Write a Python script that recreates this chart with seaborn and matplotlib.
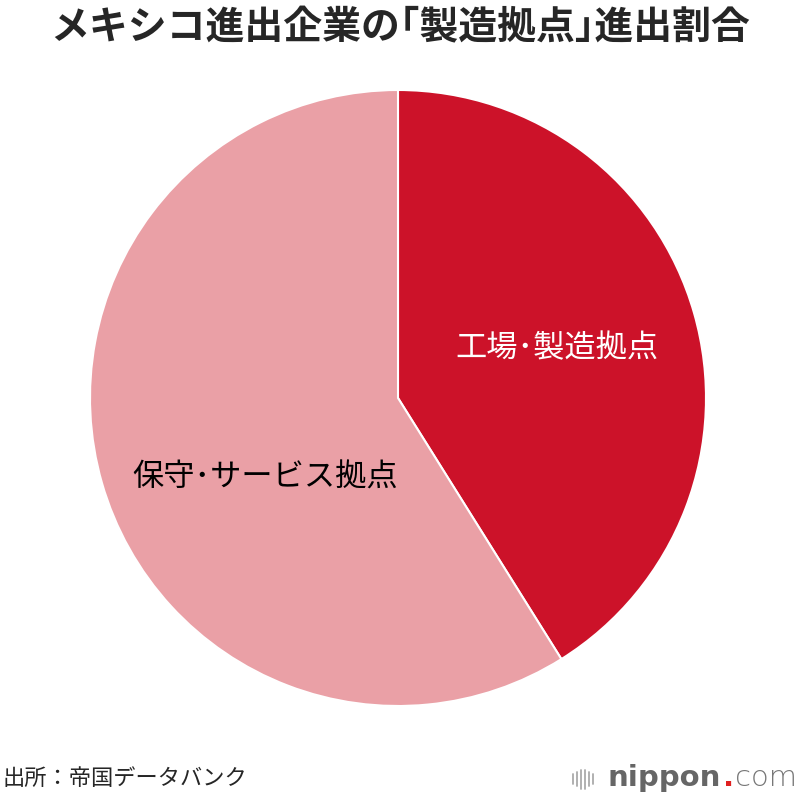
import matplotlib
matplotlib.use("Agg")
import matplotlib.pyplot as plt
from matplotlib.lines import Line2D
import seaborn as sns

sns.set_style("white")
plt.rcParams['font.family'] = ['Noto Sans CJK JP', 'DejaVu Sans']

# data
labels = ['工場・製造拠点', '保守・サービス拠点']
shares = [41.1, 58.9]
colors = ['#cc1229', '#eaa0a6']
label_colors = ['white', 'black']
label_pos = [(0.516, 0.162), (-0.43, -0.26)]

fig = plt.figure(figsize=(8, 8), dpi=100)
ax = fig.add_axes([90/800, 94/800, 616/800, 616/800])

wedges, _ = ax.pie(shares, colors=colors, startangle=90, counterclock=False,
                   wedgeprops=dict(edgecolor='white', linewidth=1.5))
ax.set_xlim(-1, 1)
ax.set_ylim(-1, 1)
ax.set_aspect('equal')
ax.axis('off')

for lab, c, (x, y) in zip(labels, label_colors, label_pos):
    ax.text(x, y, lab.replace('・', '･'), color=c, fontsize=22.5, ha='center', va='center')

fig.text(0.5, 0.965, 'メキシコ進出企業の｢製造拠点｣進出割合', ha='center', va='center',
         fontsize=28, fontweight='bold')
fig.text(0.003, 0.027, '出所：帝国データバンク', ha='left', va='center', fontsize=16)

# nippon.com logo
renderer = fig.canvas.get_renderer()
x0 = 608 / 800
t1 = fig.text(x0, 0.027, 'nippon', ha='left', va='center', fontsize=21,
              fontweight='bold', color='#666666', family='DejaVu Sans')
x1 = t1.get_window_extent(renderer).x1 / 800
t2 = fig.text(x1 + 0.002, 0.027, '.', ha='left', va='center', fontsize=21,
              fontweight='bold', color='#e02020', family='DejaVu Sans')
x2 = t2.get_window_extent(renderer).x1 / 800
fig.text(x2 + 0.001, 0.027, 'com', ha='left', va='center', fontsize=21,
         color='#777777', family='DejaVu Sans', fontweight='light')
bar_x = [0.716, 0.721, 0.726, 0.731, 0.736, 0.741]
bar_h = [0.012, 0.018, 0.024, 0.024, 0.018, 0.012]
for bx, bh in zip(bar_x, bar_h):
    fig.add_artist(Line2D([bx, bx], [0.026 - bh/2, 0.026 + bh/2],
                          color='#aaaaaa', linewidth=1.3))

fig.savefig('out.png', dpi=100, facecolor='white')
